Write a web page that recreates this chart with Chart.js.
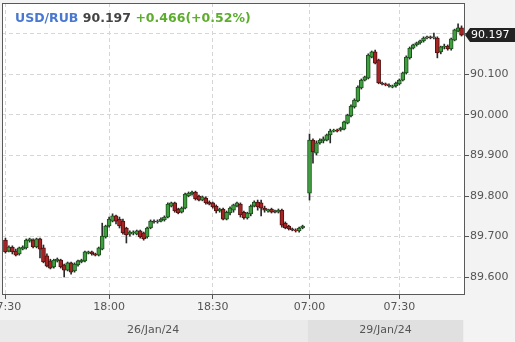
<!DOCTYPE html>
<html>
<head>
<meta charset="utf-8">
<script src="https://cdn.jsdelivr.net/npm/chart.js@4.4.1/dist/chart.umd.min.js"></script>
<style>
  html, body { margin: 0; padding: 0; background: #f3f3f3; }
  #wrap { position: relative; width: 515px; height: 342px; }
  #title { position: absolute; left: 15px; top: 10px; font: bold 12.5px "DejaVu Sans", sans-serif; white-space: nowrap; }
  #title .pair { color: #4a78d0; }
  #title .last { color: #444; }
  #title .chg { color: #5cad2e; }
</style>
</head>
<body>
<div id="wrap">
  <canvas id="myChart" width="515" height="342"></canvas>
  <div id="title"><span class="pair"></span> <span class="last"></span> <span class="chg"></span></div>
</div>
<script>
// USD/RUB 1-minute candles, 26/Jan/24 evening + 29/Jan/24 morning
const pair = 'USD/RUB';
const change = 0.466;
const changePct = 0.52;

// x tick labels (candle index -> time)
const xTickPos = [0, 30, 60, 88, 114];
const xTickLabels = ['17:30', '18:00', '18:30', '07:00', '07:30'];
const yTicks = [89.6, 89.7, 89.8, 89.9, 90.0, 90.1, 90.2];

// date band under the axis
const dayLabels = ['26/Jan/24', '29/Jan/24'];
const dayStart = [-2, 87.5];
const dayEnd = [87.5, 132.5];

// index 87 = no trading (weekend gap)
const opens = [
  89.691, 89.664, 89.674, 89.664, 89.657, 89.669, 89.672, 89.689, 89.691, 89.674,
  89.694, 89.672, 89.652, 89.640, 89.625, 89.640, 89.642, 89.630, 89.617, 89.635,
  89.615, 89.630, 89.637, 89.640, 89.659, 89.662, 89.657, 89.654, 89.669, 89.699,
  89.726, 89.738, 89.751, 89.743, 89.738, 89.721, 89.706, 89.709, 89.706, 89.714,
  89.709, 89.699, 89.721, 89.738, 89.736, 89.738, 89.741, 89.748, 89.775, 89.783,
  89.768, 89.760, 89.770, 89.800, 89.805, 89.810, 89.800, 89.790, 89.795, 89.785,
  89.783, 89.775, 89.763, 89.768, 89.743, 89.758, 89.765, 89.775, 89.780, 89.760,
  89.746, 89.756, 89.775, 89.785, 89.783, 89.770, 89.763, 89.768, 89.763, 89.760,
  89.765, 89.733, 89.726, 89.719, 89.716, 89.714, 89.721, null, 89.807, 89.938,
  89.906, 89.931, 89.936, 89.938, 89.951, 89.960, 89.963, 89.963, 89.965, 89.980,
  89.998, 90.020, 90.035, 90.067, 90.086, 90.091, 90.143, 90.156, 90.136, 90.079,
  90.077, 90.074, 90.069, 90.072, 90.077, 90.086, 90.104, 90.141, 90.165, 90.173,
  90.178, 90.183, 90.190, 90.193, 90.190, 90.190, 90.156, 90.168, 90.170, 90.163,
  90.185, 90.207, 90.215
];
const highs = [
  89.696, 89.677, 89.677, 89.669, 89.674, 89.677, 89.694, 89.696, 89.694, 89.696,
  89.696, 89.679, 89.657, 89.644, 89.644, 89.647, 89.644, 89.632, 89.637, 89.637,
  89.635, 89.642, 89.644, 89.664, 89.664, 89.664, 89.659, 89.674, 89.733, 89.728,
  89.748, 89.756, 89.753, 89.748, 89.743, 89.723, 89.714, 89.714, 89.716, 89.716,
  89.711, 89.723, 89.741, 89.741, 89.741, 89.746, 89.751, 89.783, 89.785, 89.785,
  89.770, 89.773, 89.807, 89.810, 89.812, 89.812, 89.802, 89.800, 89.798, 89.788,
  89.785, 89.778, 89.770, 89.770, 89.763, 89.773, 89.780, 89.785, 89.783, 89.763,
  89.760, 89.778, 89.788, 89.790, 89.790, 89.775, 89.768, 89.770, 89.765, 89.768,
  89.768, 89.736, 89.728, 89.721, 89.719, 89.723, 89.728, null, 89.953, 89.941,
  89.936, 89.941, 89.946, 89.953, 89.965, 89.965, 89.965, 89.970, 89.985, 90.002,
  90.025, 90.040, 90.072, 90.089, 90.096, 90.151, 90.158, 90.160, 90.138, 90.081,
  90.079, 90.077, 90.074, 90.081, 90.089, 90.106, 90.146, 90.168, 90.175, 90.180,
  90.185, 90.193, 90.195, 90.195, 90.202, 90.193, 90.170, 90.175, 90.173, 90.190,
  90.212, 90.225, 90.220
];
const lows = [
  89.659, 89.662, 89.657, 89.652, 89.654, 89.667, 89.669, 89.686, 89.672, 89.672,
  89.647, 89.635, 89.625, 89.620, 89.622, 89.637, 89.622, 89.600, 89.615, 89.607,
  89.612, 89.627, 89.635, 89.637, 89.657, 89.654, 89.652, 89.652, 89.667, 89.696,
  89.723, 89.736, 89.731, 89.721, 89.706, 89.684, 89.701, 89.704, 89.704, 89.696,
  89.691, 89.696, 89.719, 89.733, 89.733, 89.736, 89.738, 89.746, 89.773, 89.760,
  89.756, 89.758, 89.768, 89.798, 89.802, 89.790, 89.788, 89.788, 89.780, 89.778,
  89.770, 89.758, 89.760, 89.741, 89.741, 89.753, 89.760, 89.773, 89.748, 89.743,
  89.743, 89.751, 89.773, 89.765, 89.751, 89.760, 89.760, 89.758, 89.758, 89.758,
  89.723, 89.719, 89.716, 89.714, 89.711, 89.711, 89.719, null, 89.790, 89.881,
  89.901, 89.928, 89.931, 89.936, 89.931, 89.958, 89.958, 89.960, 89.963, 89.978,
  89.995, 90.017, 90.032, 90.064, 90.084, 90.089, 90.141, 90.126, 90.077, 90.074,
  90.072, 90.069, 90.067, 90.069, 90.074, 90.084, 90.101, 90.138, 90.163, 90.170,
  90.175, 90.180, 90.188, 90.188, 90.188, 90.141, 90.151, 90.163, 90.160, 90.160,
  90.183, 90.205, 90.195
];
const closes = [
  89.662, 89.674, 89.662, 89.654, 89.672, 89.674, 89.691, 89.694, 89.674, 89.694,
  89.669, 89.637, 89.627, 89.622, 89.642, 89.644, 89.625, 89.617, 89.635, 89.612,
  89.632, 89.640, 89.642, 89.662, 89.662, 89.657, 89.654, 89.672, 89.701, 89.726,
  89.743, 89.751, 89.738, 89.726, 89.709, 89.704, 89.711, 89.711, 89.714, 89.699,
  89.694, 89.721, 89.738, 89.736, 89.738, 89.743, 89.748, 89.780, 89.783, 89.763,
  89.758, 89.770, 89.805, 89.807, 89.810, 89.793, 89.790, 89.798, 89.783, 89.780,
  89.773, 89.763, 89.768, 89.743, 89.760, 89.770, 89.778, 89.783, 89.753, 89.746,
  89.758, 89.775, 89.785, 89.773, 89.770, 89.765, 89.765, 89.760, 89.760, 89.765,
  89.728, 89.721, 89.719, 89.716, 89.714, 89.721, 89.726, null, 89.938, 89.909,
  89.931, 89.938, 89.941, 89.951, 89.960, 89.963, 89.960, 89.968, 89.983, 90.000,
  90.022, 90.037, 90.069, 90.086, 90.094, 90.148, 90.156, 90.128, 90.079, 90.077,
  90.074, 90.072, 90.072, 90.079, 90.086, 90.104, 90.143, 90.165, 90.173, 90.178,
  90.183, 90.190, 90.193, 90.190, 90.193, 90.153, 90.168, 90.170, 90.163, 90.188,
  90.210, 90.215, 90.197
];

const lastClose = closes[closes.length - 1];

document.querySelector('#title .pair').textContent = pair;
document.querySelector('#title .last').textContent = lastClose.toFixed(3);
document.querySelector('#title .chg').textContent =
  '+' + change.toFixed(3) + '(+' + changePct.toFixed(2) + '%)';

const upFill = '#3f9f3f', upLine = '#1d4f1d';
const downFill = '#a82424', downLine = '#4f1010';

// build bar data from the arrays
const wicks = [], bodies = [], bodyFill = [], bodyLine = [];
opens.forEach((o, i) => {
  if (o === null) return;
  const c = closes[i];
  wicks.push({ x: i, y: [lows[i], highs[i]] });
  bodies.push({ x: i, y: [Math.min(o, c), Math.max(o, c)] });
  bodyFill.push(c >= o ? upFill : downFill);
  bodyLine.push(c >= o ? upLine : downLine);
});

Chart.defaults.font.family = '"DejaVu Sans", sans-serif';
Chart.defaults.font.size = 11;

// background, plot frame, date band and last-price tag
const frame = {
  id: 'frame',
  beforeDraw(chart) {
    const { ctx, chartArea: a, scales: { x } } = chart;
    ctx.save();
    dayLabels.forEach((lbl, i) => {
      const x0 = x.getPixelForValue(dayStart[i]);
      const x1 = x.getPixelForValue(dayEnd[i]);
      ctx.fillStyle = i === 0 ? '#eaeaea' : '#e0e0e0';
      ctx.fillRect(x0, 320, x1 - x0, 22);
      ctx.fillStyle = '#555';
      ctx.textAlign = 'center';
      ctx.textBaseline = 'middle';
      ctx.font = '11px "DejaVu Sans"';
      ctx.fillText(lbl, (x0 + x1) / 2, 330);
    });
    ctx.fillStyle = '#ffffff';
    ctx.fillRect(a.left, a.top, a.right - a.left, a.bottom - a.top);
    ctx.restore();
  },
  afterDraw(chart) {
    const { ctx, chartArea: a, scales: { y } } = chart;
    ctx.save();
    ctx.strokeStyle = '#5a5a5a';
    ctx.lineWidth = 1;
    ctx.strokeRect(a.left + 0.5, a.top + 0.5, a.right - a.left - 1, a.bottom - a.top - 1);

    const py = Math.round(y.getPixelForValue(lastClose));
    ctx.fillStyle = '#222';
    ctx.beginPath();
    ctx.moveTo(a.right, py);
    ctx.lineTo(a.right + 5, py - 7);
    ctx.lineTo(chart.width, py - 7);
    ctx.lineTo(chart.width, py + 7);
    ctx.lineTo(a.right + 5, py + 7);
    ctx.closePath();
    ctx.fill();
    ctx.fillStyle = '#fff';
    ctx.font = '11px "DejaVu Sans"';
    ctx.textAlign = 'left';
    ctx.textBaseline = 'middle';
    ctx.fillText(lastClose.toFixed(3), a.right + 6, py + 0.5);
    ctx.restore();
  }
};

const ctx = document.getElementById('myChart').getContext('2d');
new Chart(ctx, {
  type: 'bar',
  data: {
    datasets: [
      {
        label: 'wick',
        data: wicks,
        backgroundColor: '#2a2a2a',
        barThickness: 1,
        grouped: false,
        order: 2
      },
      {
        label: 'body',
        data: bodies,
        backgroundColor: bodyFill,
        borderColor: bodyLine,
        borderWidth: 1,
        borderSkipped: false,
        barThickness: 4,
        grouped: false,
        order: 1
      }
    ]
  },
  options: {
    responsive: false,
    animation: false,
    layout: { padding: { left: 2, top: 3, right: 0, bottom: 0 } },
    plugins: { legend: { display: false }, tooltip: { enabled: false } },
    scales: {
      x: {
        type: 'linear',
        min: -1,
        max: 133,
        offset: false,
        afterBuildTicks: s => { s.ticks = xTickPos.map(v => ({ value: v })); },
        afterFit: s => { s.height = 47; s.paddingLeft = 0; s.paddingRight = 0; },
        ticks: {
          autoSkip: false,
          maxRotation: 0,
          padding: 2,
          color: '#555',
          callback: v => xTickLabels[xTickPos.indexOf(v)]
        },
        grid: { offset: false, color: '#d6d6d6', tickColor: '#555', tickLength: 4, tickBorderDash: [] },
        border: { display: false, dash: [4, 3] }
      },
      y: {
        position: 'right',
        min: 89.5556,
        max: 90.2765,
        afterBuildTicks: s => { s.ticks = yTicks.map(v => ({ value: v })); },
        afterFit: s => { s.width = 50; s.paddingTop = 0; s.paddingBottom = 0; },
        ticks: {
          padding: 1,
          color: '#555',
          callback: v => v.toFixed(3)
        },
        grid: { color: '#d6d6d6', tickColor: '#555', tickLength: 4, tickBorderDash: [] },
        border: { display: false, dash: [4, 3] }
      }
    }
  },
  plugins: [frame]
});
</script>
</body>
</html>
